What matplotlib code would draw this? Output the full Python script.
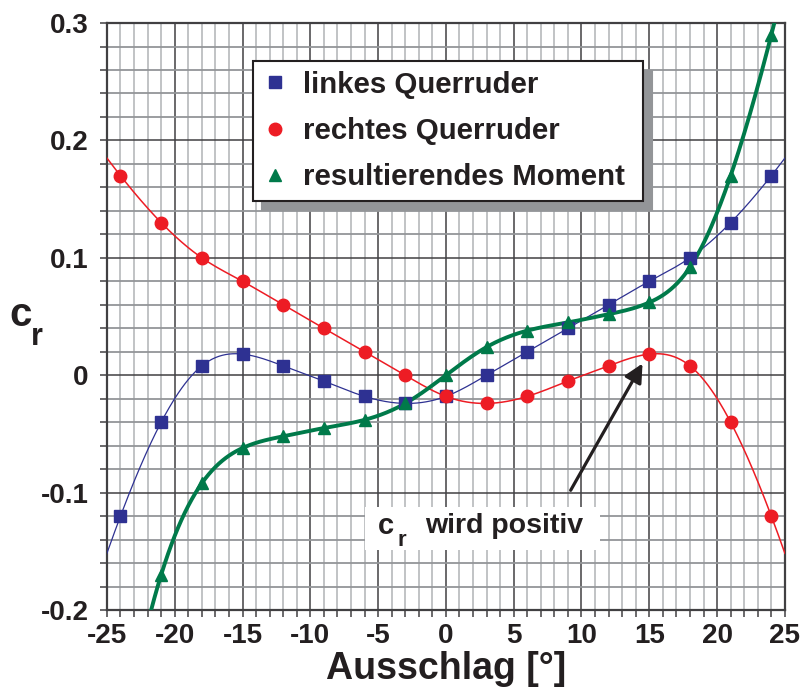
import numpy as np
import matplotlib
matplotlib.use('Agg')
import matplotlib.pyplot as plt
from matplotlib.patches import Rectangle

plt.rcParams['font.family'] = ['Liberation Sans', 'DejaVu Sans']
plt.rcParams['font.weight'] = 'bold'
TXT = '#231f20'

# Ausschlag in Grad und Beiwerte c_r
ausschlag = [-24, -21, -18, -15, -12, -9, -6, -3, 0, 3, 6, 9, 12, 15, 18, 21, 24]
links = [-0.12, -0.04, 0.008, 0.018, 0.008, -0.005, -0.018, -0.024, -0.018,
         0.0, 0.02, 0.04, 0.06, 0.08, 0.1, 0.13, 0.17]
rechts = [0.17, 0.13, 0.1, 0.08, 0.06, 0.04, 0.02, 0.0, -0.018,
          -0.024, -0.018, -0.005, 0.008, 0.018, 0.008, -0.04, -0.12]
ausschlag_res = [-21, -18, -15, -12, -9, -6, -3, 0, 3, 6, 9, 12, 15, 18, 21, 24]
moment = [-0.17, -0.092, -0.062, -0.052, -0.045, -0.038, -0.024, 0.0,
          0.024, 0.038, 0.045, 0.052, 0.062, 0.092, 0.17, 0.29]

x_ticks = [-25, -20, -15, -10, -5, 0, 5, 10, 15, 20, 25]
y_ticks = [-0.2, -0.1, 0, 0.1, 0.2, 0.3]
y_labels = ['-0.2', '-0.1', '0', '0.1', '0.2', '0.3']


def spline(xk, yk, xs):
    # kubischer Spline (not-a-knot), aequidistante Stuetzstellen
    xk = np.asarray(xk, float)
    yk = np.asarray(yk, float)
    n = len(xk)
    h = xk[1] - xk[0]
    A = np.zeros((n, n))
    b = np.zeros(n)
    A[0, :3] = [1, -2, 1]
    A[-1, -3:] = [1, -2, 1]
    for i in range(1, n - 1):
        A[i, i - 1:i + 2] = [1, 4, 1]
        b[i] = 6 / h**2 * (yk[i - 1] - 2 * yk[i] + yk[i + 1])
    M = np.linalg.solve(A, b)
    i = np.clip(((xs - xk[0]) // h).astype(int), 0, n - 2)
    x0, x1 = xk[i], xk[i + 1]
    return (M[i] * (x1 - xs)**3 / (6 * h) + M[i + 1] * (xs - x0)**3 / (6 * h)
            + (yk[i] / h - M[i] * h / 6) * (x1 - xs)
            + (yk[i + 1] / h - M[i + 1] * h / 6) * (xs - x0))


xs = np.linspace(-25, 25, 600)

fig = plt.figure(figsize=(8.1, 6.98), dpi=100)
ax = fig.add_axes([0.132, 0.126, 0.837, 0.841])

blau = '#2e3192'
rot = '#ed1c24'
gruen = '#007a4a'

ax.plot(xs, spline(ausschlag, links, xs), color=blau, lw=0.9, zorder=4)
ax.plot(xs, spline(ausschlag, rechts, xs), color=rot, lw=1.1, zorder=4)
ax.plot(xs, spline(ausschlag_res, moment, xs), color=gruen, lw=2.8, zorder=4)

ax.plot(ausschlag, links, 's', color=blau, ms=8.5, ls='none', zorder=5,
        label='linkes Querruder ')
ax.plot(ausschlag, rechts, 'o', color=rot, ms=9, ls='none', zorder=5,
        label='rechtes Querruder ')
ax.plot(ausschlag_res, moment, '^', color=gruen, ms=9, ls='none', zorder=5,
        label='resultierendes Moment ')

ax.set_xlim(-25, 25)
ax.set_ylim(-0.2, 0.3)
ax.set_xticks(x_ticks)
ax.set_xticklabels([str(v) for v in x_ticks])
ax.set_yticks(y_ticks)
ax.set_yticklabels(y_labels)
ax.set_xticks(np.arange(-25, 26, 1), minor=True)
ax.set_yticks(np.arange(-0.2, 0.301, 0.02), minor=True)

ax.grid(which='minor', axis='x', color='#bcbec0', lw=1.3, zorder=0)
ax.grid(which='minor', axis='y', color='#939598', lw=1.3, zorder=0)
ax.grid(which='major', color='#414042', lw=1.1, zorder=1)
ax.set_axisbelow(True)

for s in ax.spines.values():
    s.set_color('#414042')
    s.set_linewidth(1.6)
ax.tick_params(which='both', direction='out', length=5, width=1.1,
               color='#414042', labelsize=20, labelcolor=TXT)
ax.tick_params(axis='y', pad=8)
ax.tick_params(axis='x', pad=4)

ax.set_xlabel('Ausschlag [°]', fontsize=27, fontweight='bold', color=TXT,
              labelpad=2)
fig.text(0.025, 0.549, 'c', fontsize=29, color=TXT, ha='center', va='center')
fig.text(0.046, 0.517, 'r', fontsize=22, color=TXT, ha='center', va='center')

leg = ax.legend(loc='upper left', bbox_to_anchor=(0.215, 0.935),
                borderaxespad=0, fontsize=21.2, frameon=True, fancybox=False,
                handlelength=0.9, handletextpad=0.5, labelspacing=0.62,
                borderpad=0.32, framealpha=1,
                shadow={'ox': 7, 'oy': -7, 'color': '#939598', 'alpha': 1})
leg.get_frame().set_edgecolor(TXT)
leg.get_frame().set_linewidth(1.5)
for t in leg.get_texts():
    t.set_color(TXT)
leg.set_zorder(6)

# Hinweis mit Pfeil
ax.add_patch(Rectangle((-6.0, -0.149), 17.35, 0.037, facecolor='white',
                       edgecolor='none', zorder=3))
ax.text(-5.0, -0.1285, 'c', fontsize=21, color=TXT, ha='left', va='center', zorder=6)
ax.text(-3.6, -0.141, 'r', fontsize=16, color=TXT, ha='left', va='center', zorder=6)
ax.text(-1.55, -0.1285, 'wird positiv', fontsize=20.5, color=TXT, ha='left',
        va='center', zorder=6)
ax.annotate('', xy=(14.5, 0.01), xytext=(9.2, -0.098),
            arrowprops=dict(arrowstyle='-|>', lw=2.3, color=TXT,
                            mutation_scale=28, shrinkA=0, shrinkB=0),
            zorder=6)

fig.savefig('out.png', dpi=100)
